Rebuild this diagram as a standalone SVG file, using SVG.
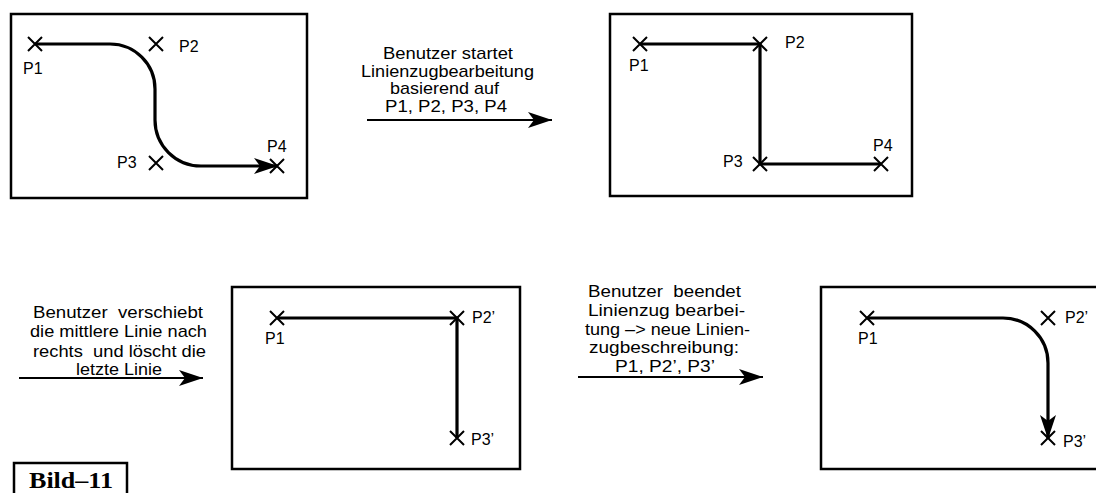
<svg xmlns="http://www.w3.org/2000/svg" width="1096" height="493" viewBox="0 0 1096 493">
<style>
.frame{fill:none;stroke:#000;stroke-width:2.5}
.poly{fill:none;stroke:#000;stroke-width:3.2;stroke-linejoin:miter}
.x{fill:none;stroke:#000;stroke-width:2}
.lbl{font-family:"Liberation Sans",Arial,sans-serif;font-size:16px;fill:#000}
.cap{font-family:"Liberation Sans",Arial,sans-serif;font-size:17px;fill:#000}
.step{fill:none;stroke:#000;stroke-width:2}
.bild{font-family:"Liberation Serif","Times New Roman",serif;font-size:24px;font-weight:bold;fill:#000}
</style>
<defs>
<marker id="ah" markerUnits="userSpaceOnUse" markerWidth="30" markerHeight="20" refX="26" refY="10" orient="auto" overflow="visible">
<path d="M2,2 L26,10 L2,18 L8,10 Z" fill="#000"/>
</marker>
<path id="cross" d="M-7,-7 L7,7 M-7,7 L7,-7"/>
</defs>

<g id="panel1">
<rect class="frame" x="11" y="14" width="296" height="184"/>
<use href="#cross" class="x" x="35" y="44"/>
<use href="#cross" class="x" x="156" y="44"/>
<use href="#cross" class="x" x="156" y="163"/>
<use href="#cross" class="x" x="277" y="166"/>
<path class="poly" d="M35,44 H110 A45,45 0 0 1 155,89 V120 A46,46 0 0 0 201,166 H278" marker-end="url(#ah)"/>
<text class="lbl" x="23" y="74">P1</text>
<text class="lbl" x="179" y="52">P2</text>
<text class="lbl" x="117" y="168">P3</text>
<text class="lbl" x="267" y="152">P4</text>
</g>

<g id="panel2">
<rect class="frame" x="610" y="14" width="302" height="182"/>
<path class="poly" d="M640,44 H760 V164 H881"/>
<use href="#cross" class="x" x="640" y="44"/>
<use href="#cross" class="x" x="760" y="44"/>
<use href="#cross" class="x" x="760" y="164"/>
<use href="#cross" class="x" x="881" y="164"/>
<text class="lbl" x="629" y="71">P1</text>
<text class="lbl" x="785" y="48">P2</text>
<text class="lbl" x="723" y="167">P3</text>
<text class="lbl" x="873" y="151">P4</text>
</g>

<g id="panel3">
<rect class="frame" x="232" y="287" width="288" height="182"/>
<path class="poly" d="M277,318 H457 V438"/>
<use href="#cross" class="x" x="277" y="318"/>
<use href="#cross" class="x" x="457" y="318"/>
<use href="#cross" class="x" x="457" y="438"/>
<text class="lbl" x="265" y="344">P1</text>
<text class="lbl" x="472" y="323">P2’</text>
<text class="lbl" x="471" y="445">P3’</text>
</g>

<g id="panel4">
<rect class="frame" x="821" y="287" width="280" height="182"/>
<use href="#cross" class="x" x="867" y="318"/>
<use href="#cross" class="x" x="1048" y="318"/>
<use href="#cross" class="x" x="1048" y="438"/>
<path class="poly" d="M867,318 H1003 A45,45 0 0 1 1048,363 V439" marker-end="url(#ah)"/>
<text class="lbl" x="858" y="344">P1</text>
<text class="lbl" x="1065" y="323">P2’</text>
<text class="lbl" x="1063" y="447">P3’</text>
</g>

<g id="caption1">
<text class="cap" x="383" y="59" textLength="130" lengthAdjust="spacingAndGlyphs">Benutzer startet</text>
<text class="cap" x="361" y="77" textLength="173" lengthAdjust="spacingAndGlyphs">Linienzugbearbeitung</text>
<text class="cap" x="390" y="94" textLength="109" lengthAdjust="spacingAndGlyphs">basierend auf</text>
<text class="cap" x="385" y="112" textLength="122" lengthAdjust="spacingAndGlyphs">P1, P2, P3, P4</text>
</g>

<g id="caption2">
<text class="cap" x="33" y="318" textLength="170" lengthAdjust="spacingAndGlyphs" xml:space="preserve">Benutzer  verschiebt</text>
<text class="cap" x="30" y="337" textLength="177" lengthAdjust="spacingAndGlyphs">die mittlere Linie nach</text>
<text class="cap" x="33" y="357" textLength="173" lengthAdjust="spacingAndGlyphs" xml:space="preserve">rechts  und löscht die</text>
<text class="cap" x="76" y="375" textLength="86" lengthAdjust="spacingAndGlyphs">letzte Linie</text>
</g>

<g id="caption3">
<text class="cap" x="588" y="297" textLength="153" lengthAdjust="spacingAndGlyphs" xml:space="preserve">Benutzer  beendet</text>
<text class="cap" x="588" y="316" textLength="157" lengthAdjust="spacingAndGlyphs">Linienzug bearbei-</text>
<text class="cap" x="585" y="335" textLength="165" lengthAdjust="spacingAndGlyphs">tung –&gt; neue Linien-</text>
<text class="cap" x="589" y="353" textLength="150" lengthAdjust="spacingAndGlyphs">zugbeschreibung:</text>
<text class="cap" x="615" y="372" textLength="100" lengthAdjust="spacingAndGlyphs">P1, P2’, P3’</text>
</g>

<g id="connectors">
<line class="step" x1="367" y1="120" x2="552" y2="120" marker-end="url(#ah)"/>
<line class="step" x1="19" y1="378" x2="203" y2="378" marker-end="url(#ah)"/>
<line class="step" x1="578" y1="377" x2="763" y2="377" marker-end="url(#ah)"/>
</g>

<g id="bild">
<rect class="frame" x="14" y="463" width="113" height="35"/>
<text class="bild" x="29" y="488" textLength="84" lengthAdjust="spacingAndGlyphs">Bild–11</text>
</g>
</svg>
